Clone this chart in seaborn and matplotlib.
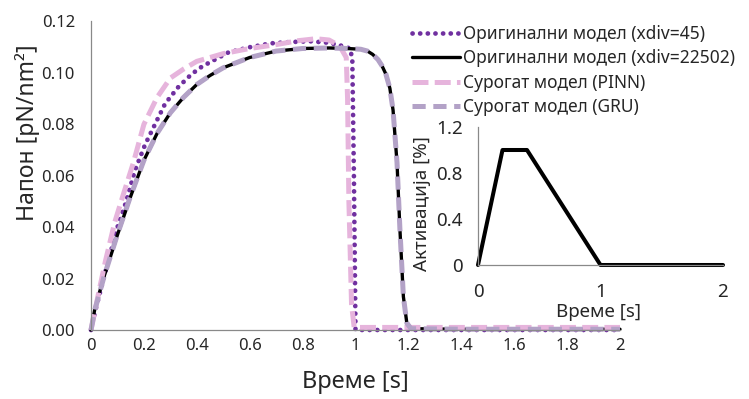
import matplotlib
matplotlib.use("Agg")
import matplotlib.pyplot as plt
import seaborn as sns

# Stress response over time for the four models
t_coarse = [0, 0.02, 0.05, 0.10, 0.13, 0.166, 0.204, 0.23, 0.28, 0.33, 0.38, 0.42,
            0.52, 0.60, 0.68, 0.75, 0.83, 0.90, 0.95, 0.98, 0.988, 0.994, 1.0, 1.05, 1.5, 2.0]
s_coarse = [0, 0.009, 0.021, 0.040, 0.049, 0.062, 0.072, 0.0775, 0.088, 0.0945, 0.0995, 0.1025,
            0.108, 0.110, 0.1115, 0.112, 0.1123, 0.1117, 0.1105, 0.1095, 0.105, 0.060, 0.0, 0.0, 0.0, 0.0]

t_fine = [0, 0.015, 0.05, 0.10, 0.15, 0.20, 0.25, 0.30, 0.35, 0.40, 0.45, 0.50, 0.60, 0.70,
          0.80, 0.90, 0.97, 1.02, 1.045, 1.065, 1.085, 1.10, 1.115, 1.13, 1.142, 1.157,
          1.168, 1.181, 1.194, 1.21, 1.4, 1.6, 1.8, 2.0]
s_fine = [0, 0.0085, 0.021, 0.037, 0.052, 0.066, 0.0765, 0.0845, 0.0905, 0.0955, 0.099, 0.102,
          0.106, 0.1085, 0.1095, 0.1097, 0.1095, 0.1092, 0.1085, 0.1072, 0.1052, 0.1028, 0.0995,
          0.094, 0.0855, 0.065, 0.039, 0.013, 0.0027, 0.0005, 0.0003, 0.0003, 0.0003, 0.0003]

t_pinn = [0, 0.01, 0.03, 0.055, 0.09, 0.12, 0.16, 0.20, 0.25, 0.30, 0.35, 0.40, 0.50, 0.60,
          0.70, 0.78, 0.85, 0.90, 0.94, 0.965, 0.97, 0.975, 0.985, 0.995, 1.05, 1.5, 2.0]
s_pinn = [0, 0.005, 0.015, 0.027, 0.042, 0.052, 0.065, 0.080, 0.0905, 0.098, 0.1015, 0.1045,
          0.1075, 0.1095, 0.111, 0.1125, 0.1133, 0.1128, 0.1105, 0.106, 0.090, 0.050, 0.010,
          0.001, 0.001, 0.001, 0.001]

t_gru = [0, 0.015, 0.05, 0.10, 0.15, 0.20, 0.25, 0.30, 0.35, 0.40, 0.45, 0.50, 0.60, 0.70,
         0.80, 0.90, 0.97, 1.02, 1.045, 1.065, 1.085, 1.10, 1.115, 1.13, 1.142, 1.157,
         1.168, 1.181, 1.194, 1.21, 1.4, 1.6, 1.8, 2.0]
s_gru = [0, 0.008, 0.021, 0.0372, 0.0522, 0.066, 0.0765, 0.0845, 0.0905, 0.0955, 0.099, 0.102,
         0.106, 0.1085, 0.1095, 0.1097, 0.1095, 0.1092, 0.1085, 0.1072, 0.1052, 0.1028, 0.0995,
         0.094, 0.0855, 0.065, 0.039, 0.013, 0.0027, 0.0005, 0.0003, 0.0003, 0.0003, 0.0003]

# Muscle activation profile (inset)
t_act = [0, 0.2, 0.4, 1.0, 2.0]
act = [0, 1, 1, 0, 0]

series_labels = ["Оригинални модел (xdiv=45)", "Оригинални модел (xdiv=22502)",
                 "Сурогат модел (PINN)", "Сурогат модел (GRU)"]

x_ticks = [0, 0.2, 0.4, 0.6, 0.8, 1.0, 1.2, 1.4, 1.6, 1.8, 2.0]
x_ticklabels = ["0", "0.2", "0.4", "0.6", "0.8", "1", "1.2", "1.4", "1.6", "1.8", "2"]
y_ticks = [0, 0.02, 0.04, 0.06, 0.08, 0.10, 0.12]
y_ticklabels = ["0.00", "0.02", "0.04", "0.06", "0.08", "0.10", "0.12"]
ix_ticks = [0, 1, 2]
ix_ticklabels = ["0", "1", "2"]
iy_ticks = [0, 0.4, 0.8, 1.2]
iy_ticklabels = ["0", "0.4", "0.8", "1.2"]

sns.set_style("white")
plt.rcParams["font.family"] = ["Noto Sans", "DejaVu Sans"]
plt.rcParams["lines.scale_dashes"] = False

PURPLE = "#7030A0"
PINK = "#E6B4DC"
LAVENDER = "#B3A2C7"
GRAY = "#898989"
TEXT = "#262626"
DPI = 100

fig = plt.figure(figsize=(7.49, 3.99), dpi=DPI)
ax = fig.add_axes([91 / 749, 1 - 330 / 399, 529 / 749, 308.5 / 399])


def draw(axis, t, v, color, lw, dashes=None, cap="butt"):
    sns.lineplot(x=t, y=v, ax=axis, color=color, lw=lw, estimator=None, sort=False)
    line = axis.lines[-1]
    line.set_clip_on(False)
    line.set_solid_joinstyle("round")
    if dashes is not None:
        line.set_dashes(dashes)
        line.set_dash_capstyle(cap)
    return line


handles = [
    draw(ax, t_coarse, s_coarse, PURPLE, 3.4, (0.1, 5.4), "round"),
    draw(ax, t_fine, s_fine, "black", 2.4),
    draw(ax, t_pinn, s_pinn, PINK, 3.6, (11.5, 4.5)),
    draw(ax, t_gru, s_gru, LAVENDER, 3.6, (9.5, 5.5)),
]

ax.set_xlim(0, 2)
ax.set_ylim(0, 0.12)
ax.set_xticks(x_ticks)
ax.set_xticklabels(x_ticklabels)
ax.set_yticks(y_ticks)
ax.set_yticklabels(y_ticklabels)
for side in ("top", "right"):
    ax.spines[side].set_visible(False)
for side in ("left", "bottom"):
    ax.spines[side].set_color(GRAY)
    ax.spines[side].set_linewidth(0.9)
ax.tick_params(axis="x", direction="out", length=3.6, width=0.9, color=GRAY,
               labelsize=12, labelcolor=TEXT, pad=2)
ax.tick_params(axis="y", direction="out", length=3.6, width=0.9, color=GRAY,
               labelsize=12, labelcolor=TEXT, pad=8)
ax.set_xlabel("Време [s]", fontsize=17, color=TEXT)
ax.xaxis.set_label_coords(0.5, -52 / 308.5)
ax.xaxis.label.set_va("center")
ax.set_ylabel("Напон [pN/nm²]", fontsize=16.5, color=TEXT)
ax.yaxis.set_label_coords(-63 / 529, (330 - 133) / 308.5)
ax.yaxis.label.set_va("center")

# Size the legend text so the longest entry spans about 270 px
renderer = fig.canvas.get_renderer()
probe = fig.text(0, 0, max(series_labels, key=len), fontsize=10)
probe_w = probe.get_window_extent(renderer).width
probe.remove()
leg_fs = 10 * 270 / probe_w
leg_px = leg_fs * DPI / 72
row_px = 24.4
fig.legend(handles=handles, labels=series_labels, loc="upper left",
           bbox_to_anchor=(412 / 749, 1 - (34 - 0.52 * leg_px) / 399), frameon=False,
           fontsize=leg_fs, handlelength=48 / leg_px, handletextpad=3 / leg_px,
           labelspacing=max(row_px / leg_px - 1.03, 0.1), borderpad=0,
           borderaxespad=0, labelcolor=TEXT)

# Inset with the activation signal
ins = fig.add_axes([478 / 749, 1 - 265 / 399, 245 / 749, 138 / 399])
ins.set_facecolor("none")
sns.lineplot(x=t_act, y=act, ax=ins, color="black", lw=2.9, estimator=None, sort=False)
ins.lines[-1].set_clip_on(False)
ins.set_xlim(0, 2)
ins.set_ylim(0, 1.2)
ins.set_xticks(ix_ticks)
ins.set_xticklabels(ix_ticklabels)
ins.set_yticks(iy_ticks)
ins.set_yticklabels(iy_ticklabels)
for side in ("top", "right"):
    ins.spines[side].set_visible(False)
for side in ("left", "bottom"):
    ins.spines[side].set_color(GRAY)
    ins.spines[side].set_linewidth(0.9)
ins.tick_params(axis="x", direction="out", length=3, width=0.9, color=GRAY,
                labelsize=13.5, labelcolor=TEXT, pad=10)
ins.tick_params(axis="y", direction="out", length=3, width=0.9, color=GRAY,
                labelsize=13.5, labelcolor=TEXT, pad=8)
ins.set_xlabel("Време [s]", fontsize=13.5, color=TEXT)
ins.xaxis.set_label_coords(120 / 245, -47 / 138)
ins.xaxis.label.set_va("center")
ins.set_ylabel("Активација [%]", fontsize=13.5, color=TEXT)
ins.yaxis.set_label_coords(-56 / 245, 61 / 138)
ins.yaxis.label.set_va("center")

fig.savefig("out.png", dpi=DPI)
